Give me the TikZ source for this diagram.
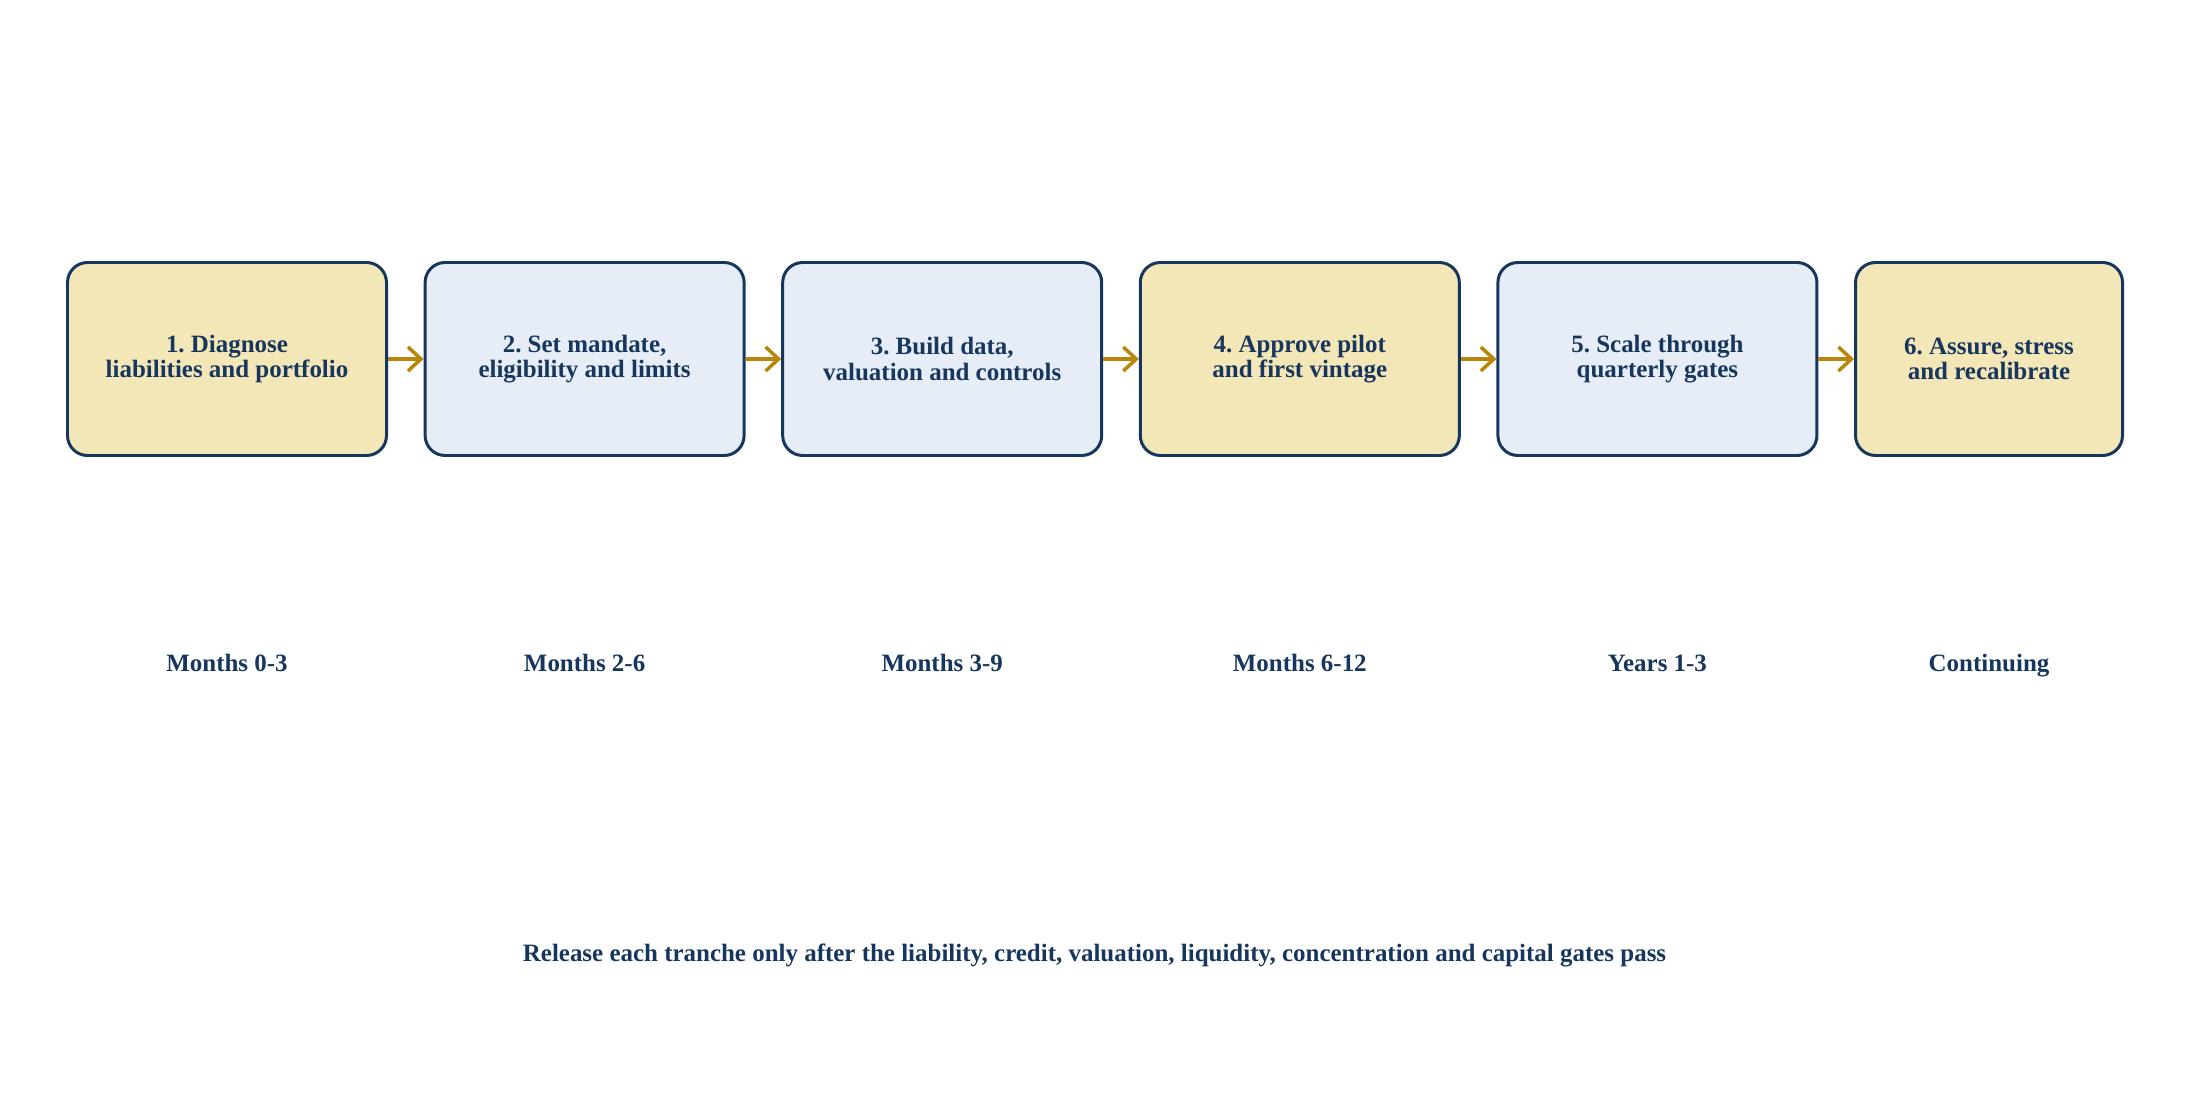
\documentclass[tikz,border=0pt]{standalone}
\usepackage{fontspec}
\setmainfont{Liberation Serif}
\usetikzlibrary{arrows.meta}
\frenchspacing

\definecolor{navy}{RGB}{23,54,93}
\definecolor{sand}{RGB}{243,231,184}
\definecolor{mist}{RGB}{230,237,246}
\definecolor{gold}{RGB}{184,134,11}

\begin{document}
\begin{tikzpicture}[
    phase/.style={draw=navy, line width=0.85pt, rounded corners=0.2cm,
      minimum width=3.19cm, minimum height=1.93cm, align=center,
      text=navy, font=\fontsize{7.1}{7.3}\selectfont\bfseries, inner sep=0pt},
    when/.style={text=navy, font=\fontsize{7.1}{7.3}\selectfont\bfseries, anchor=base},
    flow/.style={draw=gold, line width=1pt, -{Straight Barb[length=1.3mm, width=2.4mm, line width=1pt]}}
  ]
  \useasboundingbox (0,0) rectangle (21.89,11.11);

  \node[phase, fill=sand] (p1) at (2.27,7.52) {1. Diagnose\\liabilities and portfolio};
  \node[phase, fill=mist] (p2) at (5.846,7.52) {2. Set mandate,\\eligibility and limits};
  \node[phase, fill=mist] (p3) at (9.422,7.52) {3. Build data,\\valuation and controls};
  \node[phase, fill=sand] (p4) at (12.998,7.52) {4. Approve pilot\\and first vintage};
  \node[phase, fill=mist] (p5) at (16.574,7.52) {5. Scale through\\quarterly gates};
  \node[phase, fill=sand, minimum width=2.67cm] (p6) at (19.89,7.52) {6. Assure, stress\\and recalibrate};

  \draw[flow] (p1) -- (p2);
  \draw[flow] (p2) -- (p3);
  \draw[flow] (p3) -- (p4);
  \draw[flow] (p4) -- (p5);
  \draw[flow] (p5) -- (p6);

  % timing under each phase
  \node[when] (t1) at (2.27,4.40) {Months 0-3};
  \node[when] (t2) at (5.846,4.40) {Months 2-6};
  \node[when] (t3) at (9.422,4.40) {Months 3-9};
  \node[when] (t4) at (12.998,4.40) {Months 6-12};
  \node[when] (t5) at (16.574,4.40) {Years 1-3};
  \node[when] (t6) at (19.89,4.40) {Continuing};

  \node[when] (gate) at (10.945,1.50) {Release each tranche only after the liability, credit, valuation, liquidity, concentration and capital gates pass};
\end{tikzpicture}
\end{document}
